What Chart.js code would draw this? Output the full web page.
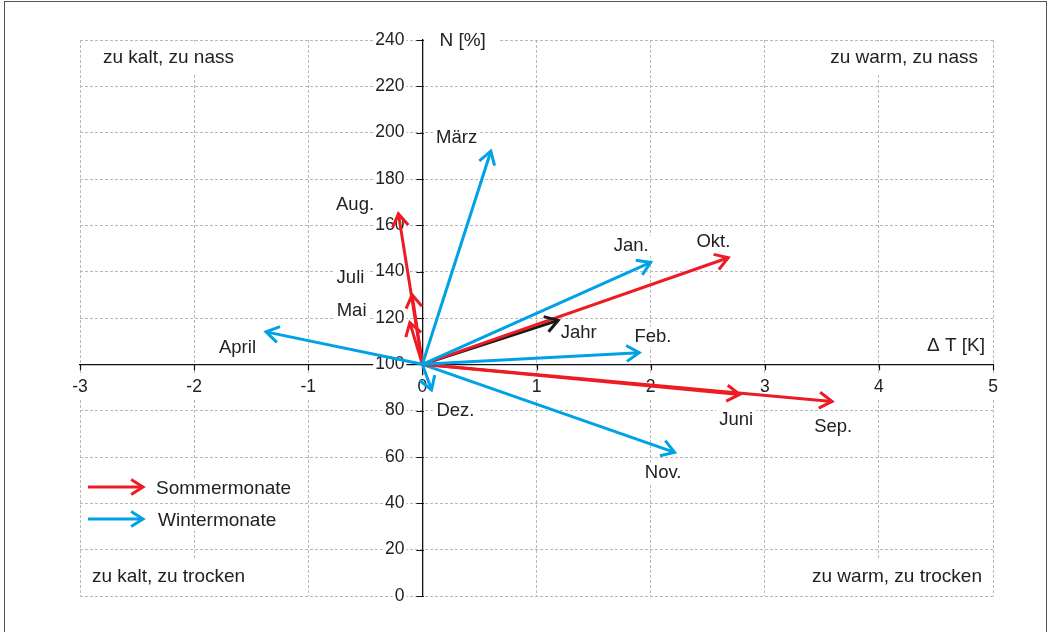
<!DOCTYPE html>
<html>
<head>
<meta charset="utf-8">
<script src="https://cdn.jsdelivr.net/npm/chart.js@4"></script>
<style>
  html, body { margin: 0; padding: 0; background: #fff; overflow: hidden; }
  #wrap { position: relative; width: 1051px; height: 632px; }
  #wrap canvas { position: absolute; left: 0; top: 0; }
  #frame { position: absolute; left: 4px; top: 1px; width: 1043px; height: 700px;
           border: 1.5px solid #555; box-sizing: border-box; pointer-events: none; }
</style>
</head>
<body>
<div id="wrap">
  <canvas id="chart" width="1051" height="632"></canvas>
  <div id="frame"></div>
</div>
<script>
// Monthly anomalies: temperature deviation ΔT [K] and precipitation N [% of normal]
const months  = ['Jan.', 'Feb.', 'März', 'April', 'Mai', 'Juni', 'Juli', 'Aug.', 'Sep.', 'Okt.', 'Nov.', 'Dez.'];
const deltaT  = [2.0, 1.9, 0.6, -1.37, -0.11, 2.78, -0.09, -0.21, 3.59, 2.68, 2.21, 0.08];
const precip  = [144, 105, 192, 114, 118, 87, 130, 165, 84, 146, 62, 89];
const season  = ['W', 'W', 'W', 'W', 'S', 'S', 'S', 'S', 'S', 'S', 'W', 'W'];

// Whole-year vector
const yearName   = 'Jahr';
const yearDeltaT = 1.19;
const yearPrecip = 119;

// Reference point (no deviation)
const baseT = 0;
const baseN = 100;

// Axis ranges / tick steps
const xRange = [-3, 5];
const yRange = [0, 240];
const xStep = 1;
const yStep = 20;

// Text
const xTitle = 'Δ T [K]';
const yTitle = 'N [%]';
const quadrantTexts = ['zu kalt, zu nass', 'zu warm, zu nass', 'zu kalt, zu trocken', 'zu warm, zu trocken'];
const legendTexts = ['Sommermonate', 'Wintermonate'];

// Where each month caption sits (in axis units)
const captionT = [1.83, 2.02, 0.30, -1.62, -0.62, 2.75, -0.63, -0.59, 3.60, 2.55, 2.11, 0.29];
const captionN = [151.1, 111.8, 197.7, 107.0, 123.0, 76.0, 137.3, 168.8, 72.9, 152.8, 53.1, 79.9];
const yearCaptionT = 1.37;
const yearCaptionN = 113.5;

const RED = '#ED1C24';
const BLUE = '#00A2E6';
const BLACK = '#1a1a1a';
const TEXT = '#222222';
const FONT = '"Liberation Sans", Arial, sans-serif';

const datasets = months.map((m, i) => ({
  label: m,
  data: [{ x: baseT, y: baseN }, { x: deltaT[i], y: precip[i] }],
  borderColor: season[i] === 'S' ? RED : BLUE,
  borderWidth: 3,
  showLine: true,
  pointRadius: 0,
  pointHoverRadius: 0,
  caption: { text: m, t: captionT[i], n: captionN[i] }
}));
datasets.push({
  label: yearName,
  data: [{ x: baseT, y: baseN }, { x: yearDeltaT, y: yearPrecip }],
  borderColor: BLACK,
  borderWidth: 3,
  showLine: true,
  pointRadius: 0,
  pointHoverRadius: 0,
  caption: { text: yearName, t: yearCaptionT, n: yearCaptionN }
});

function arrowHead(ctx, x0, y0, x1, y1, color, len, width) {
  const a = Math.atan2(y1 - y0, x1 - x0);
  const spread = Math.PI / 5.6;
  ctx.save();
  ctx.strokeStyle = color;
  ctx.lineWidth = width;
  ctx.lineJoin = 'miter';
  ctx.lineCap = 'butt';
  ctx.beginPath();
  ctx.moveTo(x1 - len * Math.cos(a - spread), y1 - len * Math.sin(a - spread));
  ctx.lineTo(x1, y1);
  ctx.lineTo(x1 - len * Math.cos(a + spread), y1 - len * Math.sin(a + spread));
  ctx.stroke();
  ctx.restore();
}

function boxedText(ctx, text, x, y, align, size, padX, padY) {
  ctx.save();
  ctx.font = size + 'px ' + FONT;
  const w = ctx.measureText(text).width;
  const h = size * 0.9;
  const left = align === 'left' ? x : align === 'right' ? x - w : x - w / 2;
  ctx.fillStyle = '#ffffff';
  ctx.fillRect(left - padX, y - h / 2 - padY, w + 2 * padX, h + 2 * padY);
  ctx.fillStyle = TEXT;
  ctx.textAlign = align;
  ctx.textBaseline = 'middle';
  ctx.fillText(text, x, y);
  ctx.restore();
}

// Tick marks, y tick labels, captions, quadrant texts, axis titles and legend
const decorations = {
  id: 'decorations',
  beforeDatasetsDraw(chart) {
    const { ctx, chartArea: ca, scales: { x, y } } = chart;
    const x0 = x.getPixelForValue(baseT);
    const y0 = y.getPixelForValue(baseN);

    // y tick labels (left of the vertical axis, which sits at ΔT = 0)
    y.ticks.forEach(t => {
      boxedText(ctx, String(t.value), x0 - 18, y.getPixelForValue(t.value), 'right', 17.5, 2, 1);
    });

    // tick marks
    ctx.save();
    ctx.strokeStyle = '#111';
    ctx.lineWidth = 1.2;
    ctx.beginPath();
    y.ticks.forEach(t => {
      const py = Math.round(y.getPixelForValue(t.value)) + 0.5;
      ctx.moveTo(x0 - 6, py);
      ctx.lineTo(x0 + 1.5, py);
    });
    x.ticks.forEach(t => {
      const px = Math.round(x.getPixelForValue(t.value)) + 0.5;
      ctx.moveTo(px, y0);
      ctx.lineTo(px, y0 + 6);
    });
    ctx.stroke();
    ctx.restore();

    // axis titles
    boxedText(ctx, yTitle, x0 + 17, ca.top + 1, 'left', 19, 14, 6);
    boxedText(ctx, xTitle, ca.right - 8, y0 - 19, 'right', 19, 4, 2);

    // quadrant texts
    boxedText(ctx, quadrantTexts[0], ca.left + 23, ca.top + 18, 'left', 19, 14, 8);
    boxedText(ctx, quadrantTexts[1], ca.right - 15, ca.top + 18, 'right', 19, 14, 8);
    boxedText(ctx, quadrantTexts[2], ca.left + 12, ca.bottom - 19, 'left', 19, 10, 10);
    boxedText(ctx, quadrantTexts[3], ca.right - 11, ca.bottom - 19, 'right', 19, 10, 10);

    // month captions
    chart.data.datasets.forEach(ds => {
      const c = ds.caption;
      boxedText(ctx, c.text, x.getPixelForValue(c.t), y.getPixelForValue(c.n), 'center', 18.5, 3, 2);
    });

    // legend
    const lx = ca.left + 8;
    const ly = ca.bottom - 109;
    [[RED, legendTexts[0], 0, 68], [BLUE, legendTexts[1], 32, 70]].forEach(([col, txt, dy, tx]) => {
      boxedText(ctx, txt, lx + tx, ly + dy + 2, 'left', 19, 4, 1);
      ctx.save();
      ctx.strokeStyle = col;
      ctx.lineWidth = 3;
      ctx.beginPath();
      ctx.moveTo(lx, ly + dy);
      ctx.lineTo(lx + 54, ly + dy);
      ctx.stroke();
      ctx.restore();
      arrowHead(ctx, lx, ly + dy, lx + 55, ly + dy, col, 14, 3);
    });
  },
  afterDatasetsDraw(chart) {
    const { ctx } = chart;
    chart.data.datasets.forEach((ds, i) => {
      const pts = chart.getDatasetMeta(i).data;
      arrowHead(ctx, pts[0].x, pts[0].y, pts[1].x, pts[1].y, ds.borderColor, 15, 3);
    });
  }
};

new Chart(document.getElementById('chart'), {
  type: 'scatter',
  data: { datasets },
  plugins: [decorations],
  options: {
    responsive: false,
    animation: false,
    events: [],
    layout: { padding: { left: 80, right: 58, top: 40, bottom: 36 } },
    plugins: { legend: { display: false }, tooltip: { enabled: false } },
    scales: {
      x: {
        type: 'linear',
        min: xRange[0], max: xRange[1],
        position: { y: baseN },
        ticks: {
          stepSize: xStep, color: TEXT, padding: 12,
          font: { family: FONT, size: 17.5 },
          showLabelBackdrop: true, backdropColor: '#fff', backdropPadding: { x: 1, y: 1 }
        },
        grid: { color: '#b8b8b8', lineWidth: 1, drawTicks: false },
        border: { display: true, color: '#111', width: 1.3, dash: [3, 2], z: 0 }
      },
      y: {
        type: 'linear',
        min: yRange[0], max: yRange[1],
        position: { x: baseT },
        ticks: { stepSize: yStep, display: false },
        grid: { color: '#b8b8b8', lineWidth: 1, drawTicks: false },
        border: { display: true, color: '#111', width: 1.3, dash: [3, 2], z: -1 }
      }
    }
  }
});
</script>
</body>
</html>
